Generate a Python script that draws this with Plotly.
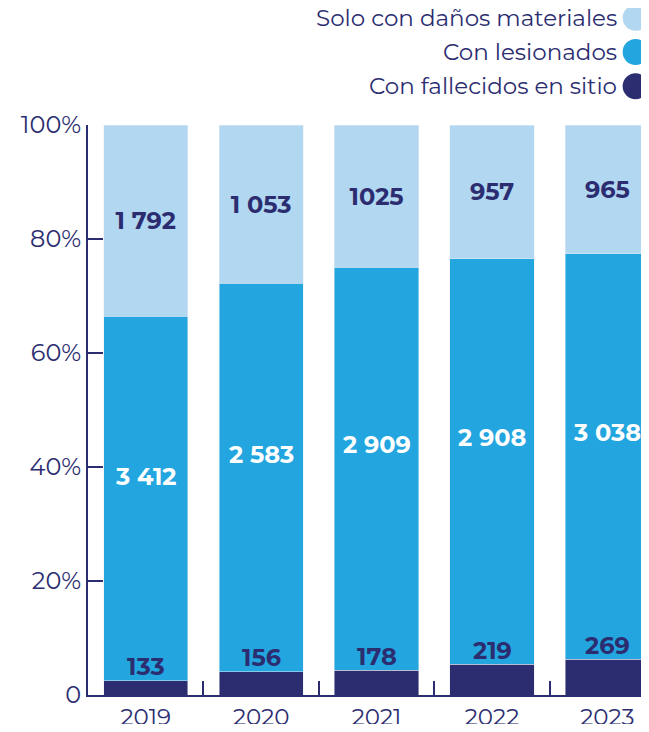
import plotly.graph_objects as go

years = ["2019", "2020", "2021", "2022", "2023"]
fallecidos = [133, 156, 178, 219, 269]
lesionados = [3412, 2583, 2909, 2908, 3038]
materiales = [1792, 1053, 1025, 957, 965]

fall_txt = ["133", "156", "178", "219", "269"]
les_txt = ["3 412", "2 583", "2 909", "2 908", "3 038"]
mat_txt = ["1 792", "1 053", "1025", "957", "965"]

series_names = ["Solo con daños materiales", "Con lesionados", "Con fallecidos en sitio"]

navy = "#2b2d70"
mid = "#23a6df"
light = "#b2d7f0"
font_family = "Montserrat, Lato, sans-serif"
lbl_size = 24

fig = go.Figure()
fig.add_trace(go.Bar(x=years, y=fallecidos, marker_color=navy, name=series_names[2],
                     width=0.73, showlegend=False))
fig.add_trace(go.Bar(x=years, y=lesionados, marker_color=mid, name=series_names[1],
                     width=0.73, showlegend=False))
fig.add_trace(go.Bar(x=years, y=materiales, marker_color=light, name=series_names[0],
                     text=mat_txt, textposition="inside", insidetextanchor="middle",
                     textfont=dict(color=navy, size=lbl_size, family=font_family, weight="bold"),
                     width=0.73, showlegend=False))

# value labels placed from the shares
for i, (f, l, m) in enumerate(zip(fallecidos, lesionados, materiales)):
    tot = f + l + m
    fs = f / tot * 100
    ls = l / tot * 100
    fig.add_annotation(x=i, y=fs, text=fall_txt[i], showarrow=False, yanchor="middle",
                       yshift=14, font=dict(color=navy, size=lbl_size, family=font_family, weight="bold"))
    fig.add_annotation(x=i, y=fs + ls * 0.56, text=les_txt[i], showarrow=False, yanchor="middle",
                       font=dict(color="white", size=lbl_size, family=font_family, weight="bold"))

# legend drawn by hand: text first, dot on the right
colors = [light, mid, navy]
leg_y = [1.188, 1.128, 1.068]
for name, c, yy in zip(series_names, colors, leg_y):
    fig.add_annotation(xref="paper", yref="paper", x=0.947, y=yy, text=name,
                       showarrow=False, xanchor="right", yanchor="middle",
                       font=dict(color=navy, size=23, family=font_family))
    fig.add_shape(type="circle", xref="paper", yref="paper",
                  x0=0.953, x1=0.999, y0=yy - 0.0228, y1=yy + 0.0228,
                  fillcolor=c, line_width=0)

# page body has an 8px margin, so the figure is shifted by it
fig.update_layout(
    barmode="stack", barnorm="percent",
    width=641, height=716,
    margin=dict(l=80, r=0, t=117, b=29),
    paper_bgcolor="white", plot_bgcolor="white",
    font=dict(family=font_family, color=navy),
    uniformtext=dict(mode="show", minsize=10),
)
fig.update_xaxes(type="category", range=[-0.5, 4.36], showline=True, linecolor=navy, linewidth=2,
                 ticks="inside", tickson="boundaries", ticklen=14, tickwidth=2, tickcolor=navy,
                 tickfont=dict(size=23, color=navy), showgrid=False, automargin=False)
fig.update_yaxes(range=[0, 100], showline=True, linecolor=navy, linewidth=2,
                 tickvals=[0, 20, 40, 60, 80, 100],
                 ticktext=["0", "20%", "40%", "60%", "80%", "100%"],
                 ticks="inside", ticklen=15, tickwidth=2, tickcolor=navy,
                 tickfont=dict(size=24, color=navy), showgrid=False, zeroline=False,
                 automargin=False)

fig.write_html("out.html")
